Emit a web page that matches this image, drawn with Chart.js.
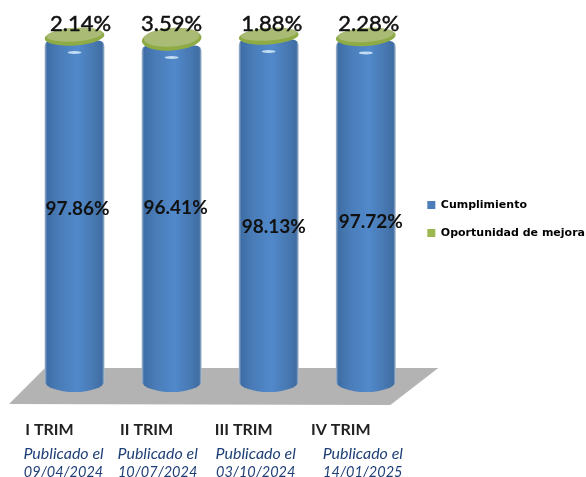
<!DOCTYPE html>
<html>
<head>
<meta charset="utf-8">
<title>Cumplimiento por trimestre</title>
<script src="https://cdn.jsdelivr.net/npm/chart.js@4"></script>
<style>
    html, body { margin: 0; padding: 0; background: #fff; overflow: hidden; }
    canvas { display: block; }
</style>
</head>
<body>
<canvas id="chart" width="586" height="477"></canvas>
<script>
// Data
const categories = ['I TRIM', 'II TRIM', 'III TRIM', 'IV TRIM'];
const publishedDates = ['09/04/2024', '10/07/2024', '03/10/2024', '14/01/2025'];
const cumplimiento = [97.86, 96.41, 98.13, 97.72];
const oportunidad = [2.14, 3.59, 1.88, 2.28];

// Hand placed label nudges, the original chart has them moved around
const blueLabelNudge = [[3, -2], [4, -5], [5, 17], [5, 11]];
const greenLabelNudge = [[6, 1], [0, 1], [3, 1], [3, 1]];
const pubLabelNudge = [-11, -14, -13, -3];

function sideGradient(ctx, x, w, stops) {
    const g = ctx.createLinearGradient(x - w / 2, 0, x + w / 2, 0);
    stops.forEach(s => g.addColorStop(s[0], s[1]));
    return g;
}

const blueStops = [[0, '#a9bbd0'], [0.04, '#3f6ea6'], [0.25, '#4a7db9'], [0.55, '#5189cb'], [0.85, '#4676ae'], [0.96, '#3f6da3'], [1, '#aebfd2']];

function barFill(stops) {
    return c => {
        const x = c.chart.scales.x.getPixelForValue(c.dataIndex);
        const w = c.chart.scales.x.width / categories.length * 0.617;
        return sideGradient(c.chart.ctx, x, w, stops);
    };
}

// Floor, value labels and the cylinder caps
const cylinders = {
    id: 'cylinders',
    afterLayout(chart) {
        // legend sits higher and further left than Chart.js puts it
        const legend = chart.legend;
        legend.top -= 36;
        legend.bottom -= 36;
        legend.left -= 4;
        legend.right -= 4;
    },
    beforeDatasetsDraw(chart) {
        const ctx = chart.ctx;
        const { left, right } = chart.chartArea;
        const y0 = chart.scales.y.getPixelForValue(0);
        ctx.save();
        ctx.fillStyle = '#b3b3b3';
        ctx.beginPath();
        ctx.moveTo(left - 17, y0 + 23);
        ctx.lineTo(left + 19, y0 - 13);
        ctx.lineTo(right + 24, y0 - 13);
        ctx.lineTo(right - 24, y0 + 24);
        ctx.closePath();
        ctx.fill();
        ctx.restore();
    },
    afterDatasetsDraw(chart) {
        const ctx = chart.ctx;
        const blue = chart.getDatasetMeta(0).data;
        const green = chart.getDatasetMeta(1).data;
        const tilt = -0.07;

        ctx.save();
        blue.forEach((bar, i) => {
            const top = green[i];
            const rx = bar.width / 2;
            const mid = (top.y + top.base) / 2;
            const h = top.base - top.y;

            // round bottom of the blue cylinder
            ctx.fillStyle = sideGradient(ctx, bar.x, bar.width, blueStops);
            ctx.beginPath();
            ctx.ellipse(bar.x, bar.base, rx, 11, 0, 0, Math.PI);
            ctx.fill();

            // small highlight under the green disc
            ctx.fillStyle = 'rgba(215,235,252,0.85)';
            ctx.beginPath();
            ctx.ellipse(bar.x, bar.y + 12, 7, 1.5, 0, 0, Math.PI * 2);
            ctx.fill();

            // green disc, whole lens then lighter upper face
            ctx.fillStyle = '#8fab45';
            ctx.beginPath();
            ctx.ellipse(top.x, mid, rx, h / 2 + 5, tilt, 0, Math.PI * 2);
            ctx.fill();
            ctx.fillStyle = '#a9bb74';
            ctx.beginPath();
            ctx.ellipse(top.x, mid - 2, rx - 2, h / 2 + 3, tilt, 0, Math.PI * 2);
            ctx.fill();
        });

        // value labels
        ctx.textAlign = 'center';
        ctx.textBaseline = 'middle';
        ctx.fillStyle = '#111';
        ctx.strokeStyle = '#111';
        ctx.font = 'bold 19px Lato';
        blue.forEach((bar, i) => {
            const n = blueLabelNudge[i];
            ctx.fillText(cumplimiento[i].toFixed(2) + '%', bar.x + n[0], (bar.y + bar.base) / 2 + n[1]);
        });
        ctx.font = '22px Lato';
        ctx.lineWidth = 0.5;
        green.forEach((bar, i) => {
            const n = greenLabelNudge[i];
            const txt = oportunidad[i].toFixed(2) + '%';
            ctx.fillText(txt, bar.x + n[0], chart.chartArea.top - 10 + n[1]);
            ctx.strokeText(txt, bar.x + n[0], chart.chartArea.top - 10 + n[1]);
        });

        // publication dates under the quarter names
        const xScale = chart.scales.x;
        const y0 = chart.scales.y.getPixelForValue(0);
        ctx.fillStyle = '#1f3f77';
        publishedDates.forEach((d, i) => {
            const x = xScale.getPixelForValue(i) + pubLabelNudge[i];
            ctx.font = 'italic 16px Lato';
            ctx.fillText('Publicado el', x, y0 + 73);
            ctx.font = 'italic 14.5px Lato';
            ctx.fillText(d, x, y0 + 91);
        });
        ctx.restore();
    }
};

new Chart(document.getElementById('chart'), {
    type: 'bar',
    data: {
        labels: categories,
        datasets: [
            {
                label: 'Cumplimiento',
                data: cumplimiento,
                backgroundColor: barFill(blueStops),
                borderRadius: { topLeft: 6, topRight: 6, bottomLeft: 0, bottomRight: 0 },
                borderSkipped: false
            },
            {
                label: 'Oportunidad de mejora',
                data: oportunidad,
                backgroundColor: 'rgba(0,0,0,0)' // the disc is drawn in the plugin
            }
        ]
    },
    options: {
        responsive: false,
        animation: false,
        layout: { padding: { left: 26, top: 33, right: -13 } },
        datasets: { bar: { barPercentage: 0.617, categoryPercentage: 1 } },
        plugins: {
            tooltip: { enabled: false },
            legend: {
                position: 'right',
                labels: {
                    boxWidth: 8,
                    boxHeight: 8,
                    padding: 17,
                    color: '#222',
                    font: { family: 'DejaVu Sans', size: 11, weight: 'bold' },
                    generateLabels: () => [
                        { text: 'Cumplimiento', fillStyle: '#4a7db9', strokeStyle: '#4a7db9', lineWidth: 0, datasetIndex: 0 },
                        { text: 'Oportunidad de mejora', fillStyle: '#9db84e', strokeStyle: '#9db84e', lineWidth: 0, datasetIndex: 1 }
                    ]
                }
            }
        },
        scales: {
            x: {
                stacked: true,
                grid: { display: false },
                border: { display: false },
                afterFit(scale) { scale.height = 96; },
                ticks: {
                    labelOffset: -25,
                    padding: 31,
                    maxRotation: 0,
                    color: '#222',
                    font: { family: 'Lato', size: 16, weight: 'bold' }
                }
            },
            y: {
                stacked: true,
                display: false,
                min: 0,
                max: 100
            }
        }
    },
    plugins: [cylinders]
});
</script>
</body>
</html>
